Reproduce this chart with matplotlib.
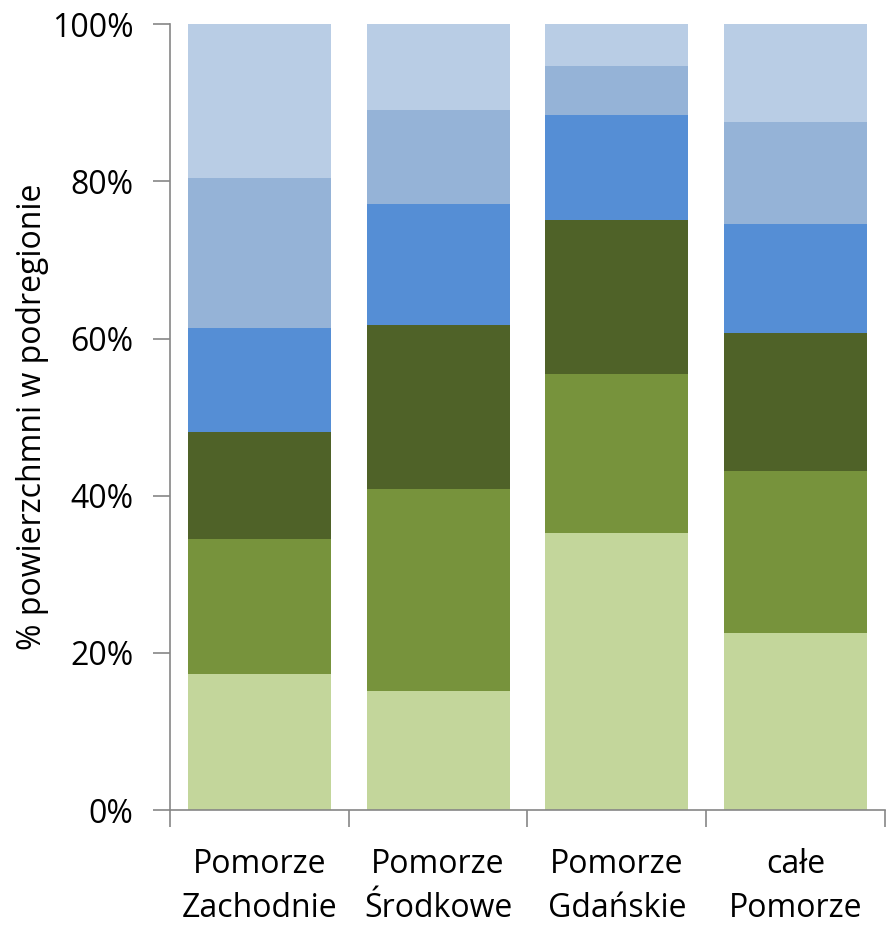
import matplotlib.pyplot as plt
import numpy as np

plt.rcParams['font.family'] = ['Open Sans', 'DejaVu Sans']

regions = ["Pomorze\nZachodnie", "Pomorze\nŚrodkowe", "Pomorze\nGdańskie", "całe\nPomorze"]
s1 = [17.3, 15.1, 35.2, 22.5]
s2 = [17.2, 25.7, 20.3, 20.6]
s3 = [13.6, 20.9, 19.6, 17.6]
s4 = [13.2, 15.4, 13.3, 13.9]
s5 = [19.1, 12.0, 6.3, 12.9]
s6 = [19.6, 10.9, 5.3, 12.5]
colors = ["#C3D69B", "#77933C", "#4F6228", "#558ED5", "#95B3D7", "#B9CDE5"]

fig = plt.figure(figsize=(8.94, 9.3), dpi=100)
ax = fig.add_axes([0.19, 0.129, 0.80, 0.845])

x = np.arange(len(regions))
bottom = np.zeros(len(regions))
for vals, c in zip([s1, s2, s3, s4, s5, s6], colors):
    ax.bar(x, vals, width=0.8, bottom=bottom, color=c)
    bottom += np.array(vals)

ax.set_xlim(-0.5, 3.5)
ax.set_ylim(0, 100)
ax.set_yticks(range(0, 101, 20))
ax.set_yticklabels([f"{v}%" for v in range(0, 101, 20)], fontsize=23)
ax.set_xticks(x)
ax.set_xticklabels(regions, fontsize=23, linespacing=1.45)
ax.tick_params(axis='x', length=0, pad=27)
ax.set_xticks(np.arange(-0.5, 4, 1), minor=True)
ax.tick_params(axis='x', which='minor', length=12, color='#868686', width=1.2)
ax.tick_params(axis='y', length=12, color='#868686', width=1.2, pad=14)
ax.set_ylabel("% powierzchmni w podregionie", fontsize=23, labelpad=2)

for s in ['top', 'right']:
    ax.spines[s].set_visible(False)
for s in ['left', 'bottom']:
    ax.spines[s].set_color('#868686')
    ax.spines[s].set_linewidth(1.2)

fig.savefig("out.png", dpi=100)
